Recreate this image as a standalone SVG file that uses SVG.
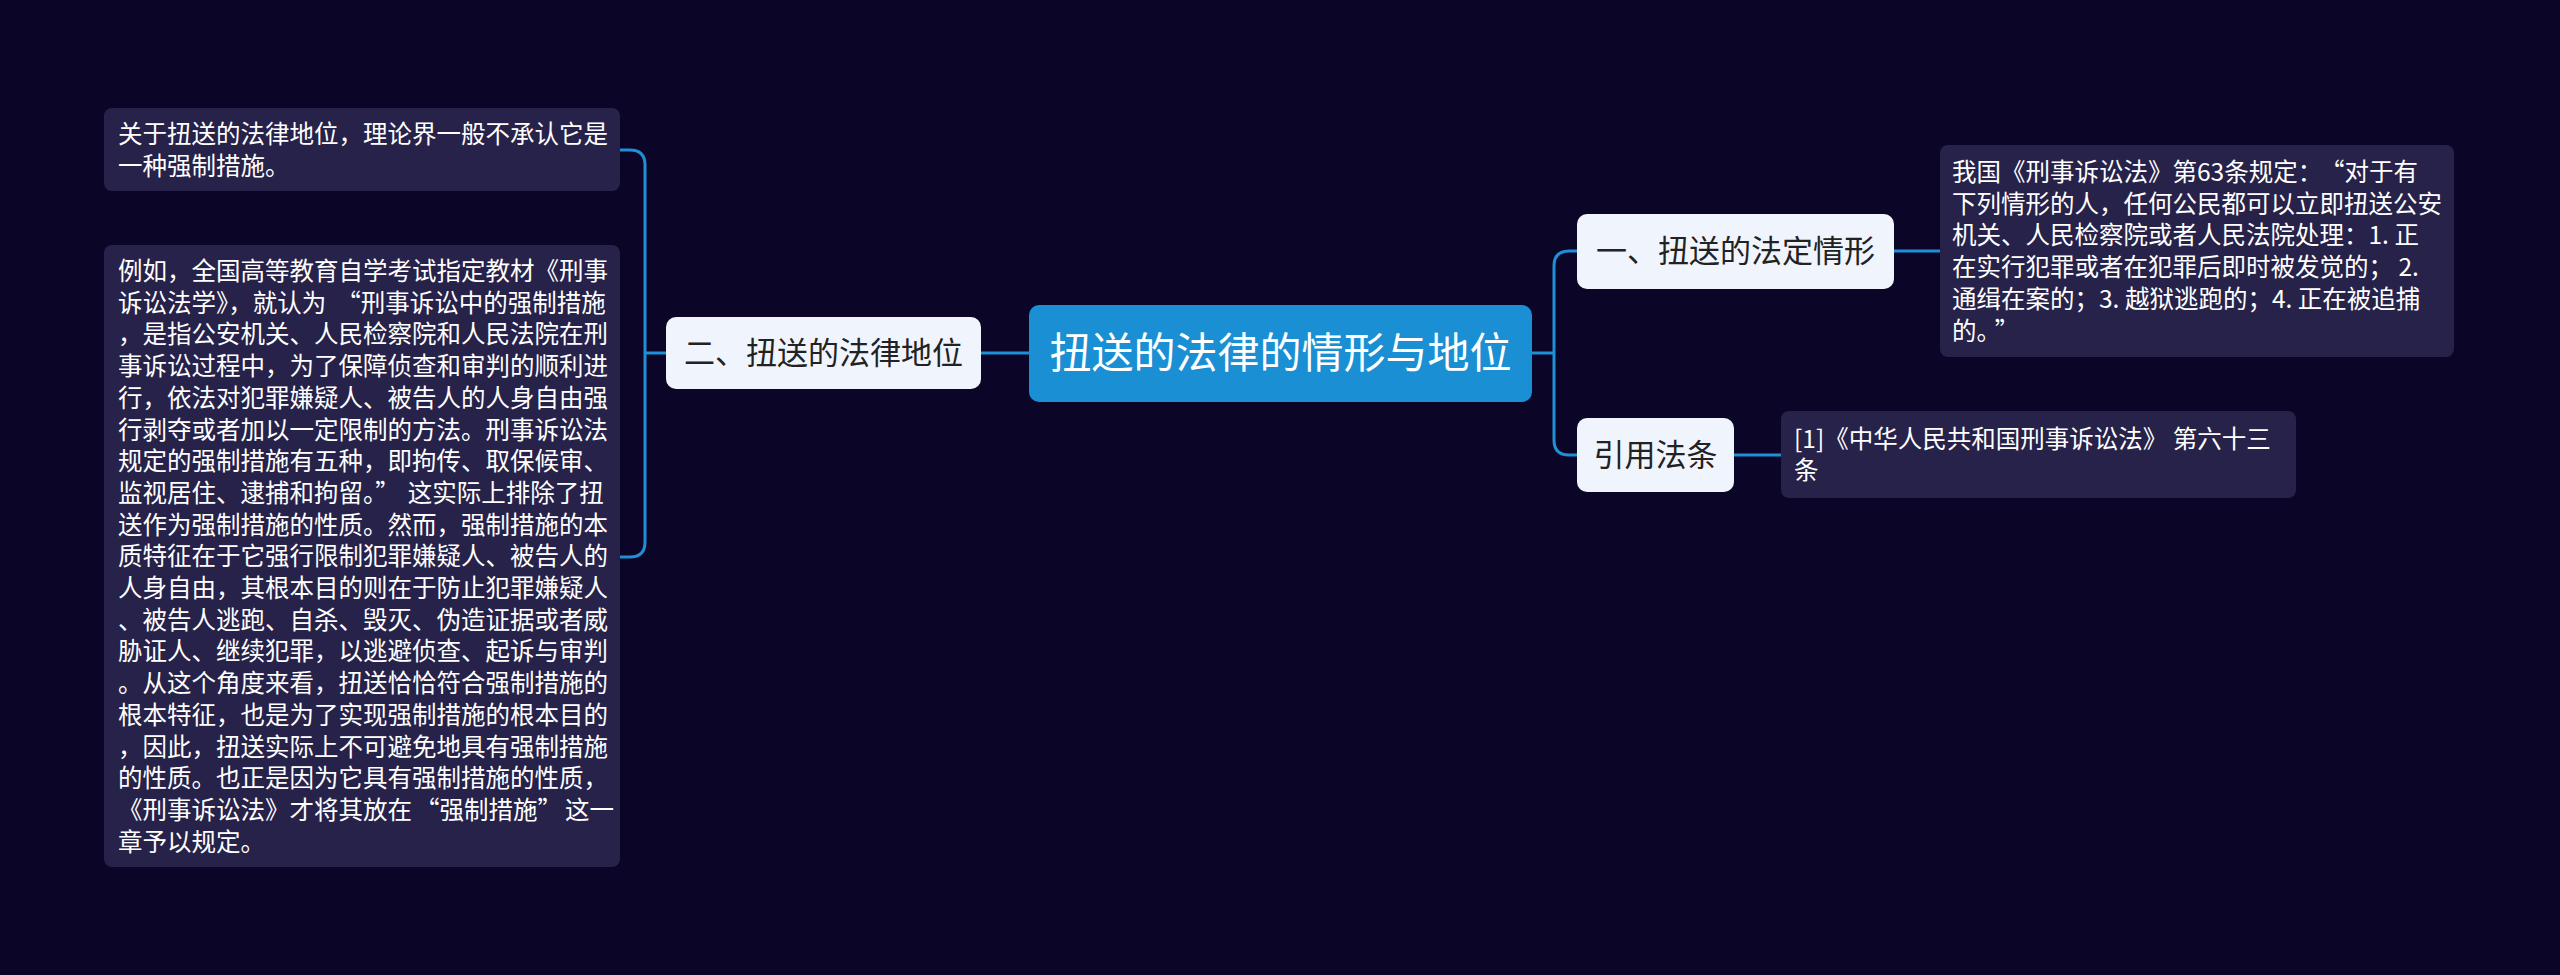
<svg xmlns="http://www.w3.org/2000/svg" width="2560" height="975" viewBox="0 0 2560 975">
<style>
.bg{fill:#0b0628}
.tb{fill:#27224a}
.lb{fill:#f0f4fc}
.rt{fill:#1a8fd3}
.t{font-family:"Noto Sans CJK SC","Noto Sans",sans-serif;font-size:24.5px;fill:#ffffff}
.l{font-family:"Noto Sans CJK SC","Noto Sans",sans-serif;font-size:31px;fill:#222222;text-anchor:middle}
.r{font-family:"Noto Sans CJK SC","Noto Sans",sans-serif;font-size:42px;fill:#ffffff;text-anchor:middle}
.c{fill:none;stroke:#1f8fd6;stroke-width:3}
</style>
<rect class="bg" x="0" y="0" width="2560" height="975"/>
<g id="connectors">
<path class="c" d="M1029,353 H981"/>
<path class="c" d="M666,353 H645 M645,353 V165 Q645,150 630,150 H620 M645,353 V542 Q645,557 630,557 H620"/>
<path class="c" d="M1532,353 H1554 M1554,353 V266 Q1554,251 1569,251 H1577 M1554,353 V440 Q1554,455 1569,455 H1577"/>
<path class="c" d="M1894,251 H1940"/>
<path class="c" d="M1734,455 H1781"/>
</g>
<g id="root">
<rect class="rt" x="1029" y="305" width="503" height="97" rx="10"/>
<text class="r" x="1280.5" y="368">扭送的法律的情形与地位</text>
</g>
<g id="n2">
<rect class="lb" x="666" y="317" width="315" height="72" rx="10"/>
<text class="l" x="823.5" y="364">二、扭送的法律地位</text>
</g>
<g id="n2a">
<rect class="tb" x="104" y="108" width="516" height="83" rx="8"/>
<text class="t" x="118" y="143">关于扭送的法律地位，理论界一般不承认它是</text>
<text class="t" x="118" y="174.7">一种强制措施。</text>
</g>
<g id="n2b">
<rect class="tb" x="104" y="245" width="516" height="622" rx="8"/>
<text class="t" x="118" y="280">例如，全国高等教育自学考试指定教材《刑事</text>
<text class="t" x="118" y="311.7">诉讼法学》，就认为<tspan dx="10">“</tspan>刑事诉讼中的强制措施</text>
<text class="t" x="118" y="343.4">，是指公安机关、人民检察院和人民法院在刑</text>
<text class="t" x="118" y="375.1">事诉讼过程中，为了保障侦查和审判的顺利进</text>
<text class="t" x="118" y="406.8">行，依法对犯罪嫌疑人、被告人的人身自由强</text>
<text class="t" x="118" y="438.5">行剥夺或者加以一定限制的方法。刑事诉讼法</text>
<text class="t" x="118" y="470.2">规定的强制措施有五种，即拘传、取保候审、</text>
<text class="t" x="118" y="501.9">监视居住、逮捕和拘留。”<tspan dx="8">这</tspan>实际上排除了扭</text>
<text class="t" x="118" y="533.6">送作为强制措施的性质。然而，强制措施的本</text>
<text class="t" x="118" y="565.3">质特征在于它强行限制犯罪嫌疑人、被告人的</text>
<text class="t" x="118" y="597">人身自由，其根本目的则在于防止犯罪嫌疑人</text>
<text class="t" x="118" y="628.7">、被告人逃跑、自杀、毁灭、伪造证据或者威</text>
<text class="t" x="118" y="660.4">胁证人、继续犯罪，以逃避侦查、起诉与审判</text>
<text class="t" x="118" y="692.1">。从这个角度来看，扭送恰恰符合强制措施的</text>
<text class="t" x="118" y="723.8">根本特征，也是为了实现强制措施的根本目的</text>
<text class="t" x="118" y="755.5">，因此，扭送实际上不可避免地具有强制措施</text>
<text class="t" x="118" y="787.2">的性质。也正是因为它具有强制措施的性质，</text>
<text class="t" x="118" y="818.9">《刑事诉讼法》才将其放在<tspan dx="3">“</tspan>强制措施”<tspan dx="3">这</tspan>一</text>
<text class="t" x="118" y="850.6">章予以规定。</text>
</g>
<g id="n1">
<rect class="lb" x="1577" y="214" width="317" height="75" rx="10"/>
<text class="l" x="1735.5" y="262">一、扭送的法定情形</text>
</g>
<g id="n1a">
<rect class="tb" x="1940" y="145" width="514" height="212" rx="8"/>
<text class="t" x="1952" y="181">我国《刑事诉讼法》第63条规定：<tspan dx="10">“</tspan>对于有</text>
<text class="t" x="1952" y="212.7">下列情形的人，任何公民都可以立即扭送公安</text>
<text class="t" x="1952" y="244.4">机关、人民检察院或者人民法院处理：1. 正</text>
<text class="t" x="1952" y="276.1">在实行犯罪或者在犯罪后即时被发觉的； 2.</text>
<text class="t" x="1952" y="307.8">通缉在案的；3. 越狱逃跑的；4. 正在被追捕</text>
<text class="t" x="1952" y="339.5">的。<tspan dx="6">”</tspan></text>
</g>
<g id="n3">
<rect class="lb" x="1577" y="418" width="157" height="74" rx="10"/>
<text class="l" x="1655.5" y="466">引用法条</text>
</g>
<g id="n3a">
<rect class="tb" x="1781" y="411" width="515" height="87" rx="8"/>
<text class="t" x="1794" y="447.5">[1]《中华人民共和国刑事诉讼法》 第六十三</text>
<text class="t" x="1794" y="479.2">条</text>
</g>
</svg>
